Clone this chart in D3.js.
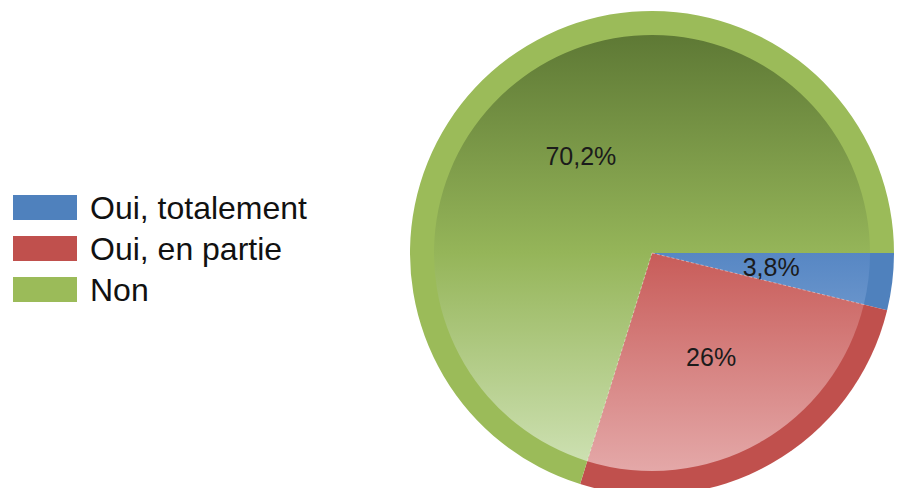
<!DOCTYPE html>
<html><head><meta charset="utf-8">
<script src="https://cdn.jsdelivr.net/npm/d3@7"></script>
<style>html,body{margin:0;padding:0;background:#fff;overflow:hidden}</style>
</head><body>
<svg id="chart" width="897" height="488"></svg>
<script>
const categories = ["Oui, totalement", "Oui, en partie", "Non"];
const values = [3.8, 26, 70.2];
const labels = ["3,8%", "26%", "70,2%"];
const baseColors = ["#4f81bd", "#c0504d", "#9bbb59"];
const gradStops = [
  ["#38608f", "#5787c4", "#9dbbe0"],
  ["#8c3a38", "#c85c59", "#e4a8a8"],
  ["#5e7935", "#95b559", "#cfe2b5"]
];

const svg = d3.select("#chart");
const cx = 652, cy = 253, rOuter = 242, rInner = 218;

const defs = svg.append("defs");
gradStops.forEach((s, i) => {
  const gg = defs.append("linearGradient").attr("id", "g" + i)
    .attr("gradientUnits", "userSpaceOnUse")
    .attr("x1", 0).attr("x2", 0).attr("y1", -rInner).attr("y2", rInner);
  gg.append("stop").attr("offset", "0%").attr("stop-color", s[0]);
  gg.append("stop").attr("offset", "50%").attr("stop-color", s[1]);
  gg.append("stop").attr("offset", "100%").attr("stop-color", s[2]);
});

const pie = d3.pie().sort(null).value(d => d)
  .startAngle(Math.PI / 2).endAngle(Math.PI / 2 + 2 * Math.PI);
const arcs = pie(values);
const outerArc = d3.arc().innerRadius(0).outerRadius(rOuter);
const innerArc = d3.arc().innerRadius(0).outerRadius(rInner);
const labelArc = d3.arc().innerRadius(0).outerRadius(240);

const g = svg.append("g").attr("transform", `translate(${cx},${cy})`);
g.selectAll("path.ring").data(arcs).join("path").attr("class", "ring")
  .attr("d", outerArc).attr("fill", (d, i) => baseColors[i]);
g.selectAll("path.face").data(arcs).join("path").attr("class", "face")
  .attr("d", innerArc).attr("fill", (d, i) => `url(#g${i})`);
// thin light separators between slices on the face
g.selectAll("line.sep").data(arcs.slice(1)).join("line").attr("class", "sep")
  .attr("x1", 0).attr("y1", 0)
  .attr("x2", d => rInner * Math.sin(d.startAngle))
  .attr("y2", d => -rInner * Math.cos(d.startAngle))
  .attr("stroke", "#ffffff").attr("stroke-opacity", 0.5).attr("stroke-width", 0.8)
  .attr("stroke-dasharray", "3,2");

g.selectAll("text.lbl").data(arcs).join("text").attr("class", "lbl")
  .attr("transform", d => { const c = labelArc.centroid(d); return `translate(${c[0]},${c[1]})`; })
  .attr("text-anchor", "middle").attr("dominant-baseline", "central")
  .attr("font-family", "Liberation Sans, Arial, sans-serif").attr("font-size", 25)
  .attr("fill", "#1b1b1b")
  .text((d, i) => labels[i]);

const legend = svg.append("g").attr("transform", "translate(13,195)");
const row = legend.selectAll("g").data(categories).join("g")
  .attr("transform", (d, i) => `translate(0,${i * 41})`);
row.append("rect").attr("width", 64).attr("height", 25).attr("fill", (d, i) => baseColors[i]);
row.append("text").attr("x", 77).attr("y", 13)
  .attr("dominant-baseline", "central")
  .attr("font-family", "Liberation Sans, Arial, sans-serif").attr("font-size", 32)
  .attr("fill", "#111").text(d => d);
</script>
</body></html>
